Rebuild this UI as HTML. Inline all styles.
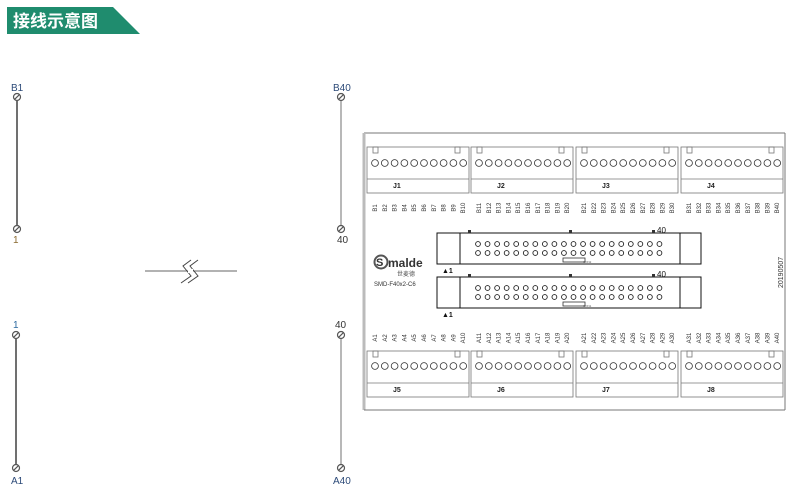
<!DOCTYPE html>
<html><head><meta charset="utf-8"><style>
html,body{margin:0;padding:0;background:#fff;}
svg{display:block;font-family:"Liberation Sans","Noto Sans CJK SC",sans-serif;}
</style></head><body>
<svg width="792" height="490" viewBox="0 0 792 490" xmlns="http://www.w3.org/2000/svg">
<defs>
<g id="c10" fill="none" stroke="#333" stroke-width="0.8">
<circle cx="8" cy="0" r="3.4"/><circle cx="17.8" cy="0" r="3.4"/><circle cx="27.6" cy="0" r="3.4"/><circle cx="37.4" cy="0" r="3.4"/><circle cx="47.2" cy="0" r="3.4"/><circle cx="57" cy="0" r="3.4"/><circle cx="66.8" cy="0" r="3.4"/><circle cx="76.6" cy="0" r="3.4"/><circle cx="86.4" cy="0" r="3.4"/><circle cx="96.2" cy="0" r="3.4"/>
</g>
<g id="top" fill="none" stroke="#777" stroke-width="0.8">
<rect x="0" y="0" width="102" height="46"/><line x1="0" y1="32" x2="102" y2="32"/>
<rect x="6" y="0" width="5" height="6"/><rect x="88" y="0" width="5" height="6"/>
<use href="#c10" y="16"/>
</g>
<g id="bot" fill="none" stroke="#777" stroke-width="0.8">
<rect x="0" y="0" width="102" height="46"/><line x1="0" y1="32" x2="102" y2="32"/>
<rect x="6" y="0" width="5" height="6"/><rect x="88" y="0" width="5" height="6"/>
<use href="#c10" y="15"/>
</g>
<g id="p20" fill="none" stroke="#222" stroke-width="0.9">
<circle cx="0" r="2.4"/><circle cx="9.55" r="2.4"/><circle cx="19.1" r="2.4"/><circle cx="28.65" r="2.4"/><circle cx="38.2" r="2.4"/><circle cx="47.75" r="2.4"/><circle cx="57.3" r="2.4"/><circle cx="66.85" r="2.4"/><circle cx="76.4" r="2.4"/><circle cx="85.95" r="2.4"/><circle cx="95.5" r="2.4"/><circle cx="105.05" r="2.4"/><circle cx="114.6" r="2.4"/><circle cx="124.15" r="2.4"/><circle cx="133.7" r="2.4"/><circle cx="143.25" r="2.4"/><circle cx="152.8" r="2.4"/><circle cx="162.35" r="2.4"/><circle cx="171.9" r="2.4"/><circle cx="181.45" r="2.4"/>
</g>
<g id="hdr">
<rect x="0" y="0" width="264" height="31" fill="none" stroke="#111" stroke-width="1"/>
<line x1="23" y1="0" x2="23" y2="31" stroke="#111"/><line x1="243" y1="0" x2="243" y2="31" stroke="#111"/>
<use href="#p20" x="41" y="11"/><use href="#p20" x="41" y="20"/>
<rect x="126" y="25" width="22" height="4" fill="none" stroke="#333" stroke-width="0.8"/>
<rect x="31" y="-3" width="3" height="3" fill="#333"/><rect x="132" y="-3" width="3" height="3" fill="#333"/><rect x="215" y="-3" width="3" height="3" fill="#333"/>
</g>
<g id="brk" fill="none" stroke="#555" stroke-width="1.2"><line x1="-3.5" y1="0" x2="3.5" y2="0" transform="rotate(-45)"/><circle r="3.5"/></g>
</defs>

<!-- banner -->
<polygon points="7,7 113,7 140,34 7,34" fill="#1f8c6e"/>
<text x="13" y="27" fill="#fff" font-size="17" font-weight="bold">接线示意图</text>

<!-- left wires -->
<text x="11" y="91" font-size="10" fill="#2c4a78">B1</text>
<use href="#brk" x="17" y="97"/>
<line x1="17" y1="101" x2="17" y2="226" stroke="#111" stroke-width="1.2"/>
<use href="#brk" x="17" y="229"/>
<text x="13" y="243" font-size="10" fill="#8a6a30">1</text>

<text x="333" y="91" font-size="10" fill="#2c4a78">B40</text>
<use href="#brk" x="341" y="97"/>
<line x1="341" y1="101" x2="341" y2="226" stroke="#888" stroke-width="1.2"/>
<use href="#brk" x="341" y="229"/>
<text x="337" y="243" font-size="10" fill="#333">40</text>

<line x1="145" y1="271" x2="237" y2="271" stroke="#666" stroke-width="1"/>
<polyline points="198,260 190,266 198,276 188,283" fill="none" stroke="#444" stroke-width="1"/>
<polyline points="191,260 183,266 191,276 181,283" fill="none" stroke="#444" stroke-width="1"/>
<rect x="188" y="269" width="5" height="4" fill="#fff"/>

<text x="13" y="328" font-size="10" fill="#2c6aa0">1</text>
<use href="#brk" x="16" y="335"/>
<line x1="16" y1="339" x2="16" y2="464" stroke="#111" stroke-width="1.2"/>
<use href="#brk" x="16" y="468"/>
<text x="11" y="484" font-size="10" fill="#2c4a78">A1</text>

<text x="335" y="328" font-size="10" fill="#333">40</text>
<use href="#brk" x="341" y="335"/>
<line x1="341" y1="339" x2="341" y2="464" stroke="#888" stroke-width="1.2"/>
<use href="#brk" x="341" y="468"/>
<text x="333" y="484" font-size="10" fill="#2c4a78">A40</text>

<!-- board -->
<line x1="364" y1="133" x2="785" y2="133" stroke="#777" stroke-width="1"/>
<line x1="364" y1="133" x2="364" y2="410" stroke="#bbb" stroke-width="3"/>
<line x1="364" y1="410" x2="785" y2="410" stroke="#777" stroke-width="1"/>
<line x1="785" y1="133" x2="785" y2="410" stroke="#777" stroke-width="1"/>

<use href="#top" x="367" y="147"/><use href="#top" x="471" y="147"/><use href="#top" x="576" y="147"/><use href="#top" x="681" y="147"/>
<g font-size="7" font-weight="bold" fill="#222">
<text x="393" y="188">J1</text><text x="497" y="188">J2</text><text x="602" y="188">J3</text><text x="707" y="188">J4</text>
<text x="393" y="392">J5</text><text x="497" y="392">J6</text><text x="602" y="392">J7</text><text x="707" y="392">J8</text>
</g>
<use href="#bot" x="367" y="351"/><use href="#bot" x="471" y="351"/><use href="#bot" x="576" y="351"/><use href="#bot" x="681" y="351"/>

<g font-size="6" fill="#333" text-anchor="middle">
<text transform="translate(377,208) rotate(-90)">B1</text><text transform="translate(386.8,208) rotate(-90)">B2</text><text transform="translate(396.6,208) rotate(-90)">B3</text><text transform="translate(406.4,208) rotate(-90)">B4</text><text transform="translate(416.2,208) rotate(-90)">B5</text><text transform="translate(426,208) rotate(-90)">B6</text><text transform="translate(435.8,208) rotate(-90)">B7</text><text transform="translate(445.6,208) rotate(-90)">B8</text><text transform="translate(455.4,208) rotate(-90)">B9</text><text transform="translate(465.2,208) rotate(-90)">B10</text>
<text transform="translate(481,208) rotate(-90)">B11</text><text transform="translate(490.8,208) rotate(-90)">B12</text><text transform="translate(500.6,208) rotate(-90)">B13</text><text transform="translate(510.4,208) rotate(-90)">B14</text><text transform="translate(520.2,208) rotate(-90)">B15</text><text transform="translate(530,208) rotate(-90)">B16</text><text transform="translate(539.8,208) rotate(-90)">B17</text><text transform="translate(549.6,208) rotate(-90)">B18</text><text transform="translate(559.4,208) rotate(-90)">B19</text><text transform="translate(569.2,208) rotate(-90)">B20</text>
<text transform="translate(586,208) rotate(-90)">B21</text><text transform="translate(595.8,208) rotate(-90)">B22</text><text transform="translate(605.6,208) rotate(-90)">B23</text><text transform="translate(615.4,208) rotate(-90)">B24</text><text transform="translate(625.2,208) rotate(-90)">B25</text><text transform="translate(635,208) rotate(-90)">B26</text><text transform="translate(644.8,208) rotate(-90)">B27</text><text transform="translate(654.6,208) rotate(-90)">B28</text><text transform="translate(664.4,208) rotate(-90)">B29</text><text transform="translate(674.2,208) rotate(-90)">B30</text>
<text transform="translate(691,208) rotate(-90)">B31</text><text transform="translate(700.8,208) rotate(-90)">B32</text><text transform="translate(710.6,208) rotate(-90)">B33</text><text transform="translate(720.4,208) rotate(-90)">B34</text><text transform="translate(730.2,208) rotate(-90)">B35</text><text transform="translate(740,208) rotate(-90)">B36</text><text transform="translate(749.8,208) rotate(-90)">B37</text><text transform="translate(759.6,208) rotate(-90)">B38</text><text transform="translate(769.4,208) rotate(-90)">B39</text><text transform="translate(779.2,208) rotate(-90)">B40</text>

<text transform="translate(377,338) rotate(-90)">A1</text><text transform="translate(386.8,338) rotate(-90)">A2</text><text transform="translate(396.6,338) rotate(-90)">A3</text><text transform="translate(406.4,338) rotate(-90)">A4</text><text transform="translate(416.2,338) rotate(-90)">A5</text><text transform="translate(426,338) rotate(-90)">A6</text><text transform="translate(435.8,338) rotate(-90)">A7</text><text transform="translate(445.6,338) rotate(-90)">A8</text><text transform="translate(455.4,338) rotate(-90)">A9</text><text transform="translate(465.2,338) rotate(-90)">A10</text>
<text transform="translate(481,338) rotate(-90)">A11</text><text transform="translate(490.8,338) rotate(-90)">A12</text><text transform="translate(500.6,338) rotate(-90)">A13</text><text transform="translate(510.4,338) rotate(-90)">A14</text><text transform="translate(520.2,338) rotate(-90)">A15</text><text transform="translate(530,338) rotate(-90)">A16</text><text transform="translate(539.8,338) rotate(-90)">A17</text><text transform="translate(549.6,338) rotate(-90)">A18</text><text transform="translate(559.4,338) rotate(-90)">A19</text><text transform="translate(569.2,338) rotate(-90)">A20</text>
<text transform="translate(586,338) rotate(-90)">A21</text><text transform="translate(595.8,338) rotate(-90)">A22</text><text transform="translate(605.6,338) rotate(-90)">A23</text><text transform="translate(615.4,338) rotate(-90)">A24</text><text transform="translate(625.2,338) rotate(-90)">A25</text><text transform="translate(635,338) rotate(-90)">A26</text><text transform="translate(644.8,338) rotate(-90)">A27</text><text transform="translate(654.6,338) rotate(-90)">A28</text><text transform="translate(664.4,338) rotate(-90)">A29</text><text transform="translate(674.2,338) rotate(-90)">A30</text>
<text transform="translate(691,338) rotate(-90)">A31</text><text transform="translate(700.8,338) rotate(-90)">A32</text><text transform="translate(710.6,338) rotate(-90)">A33</text><text transform="translate(720.4,338) rotate(-90)">A34</text><text transform="translate(730.2,338) rotate(-90)">A35</text><text transform="translate(740,338) rotate(-90)">A36</text><text transform="translate(749.8,338) rotate(-90)">A37</text><text transform="translate(759.6,338) rotate(-90)">A38</text><text transform="translate(769.4,338) rotate(-90)">A39</text><text transform="translate(779.2,338) rotate(-90)">A40</text>
</g>

<!-- headers -->
<use href="#hdr" x="437" y="233"/>
<use href="#hdr" x="437" y="277"/>
<g font-size="7" fill="#111">
<text x="657" y="233" font-size="8">40</text><text x="657" y="277" font-size="8">40</text>
<text x="442" y="273" font-weight="bold">▲1</text><text x="442" y="317" font-weight="bold">▲1</text>
</g>
<text x="583" y="263" font-size="3" fill="#555">CON2</text>
<text x="583" y="307" font-size="3" fill="#555">CON1</text>

<!-- logo -->
<circle cx="381" cy="262" r="6.5" fill="none" stroke="#555" stroke-width="2"/>
<text x="376" y="266" font-size="11" font-weight="bold" fill="#333">S</text>
<text x="388" y="267" font-size="12" font-weight="bold" fill="#333">malde</text>
<text x="397" y="276" font-size="6" fill="#555">世麦德</text>
<text x="374" y="286" font-size="6" fill="#333">SMD-F40x2-C6</text>

<text transform="translate(783,288) rotate(-90)" font-size="7" fill="#333">20190507</text>
</svg>
</body></html>
